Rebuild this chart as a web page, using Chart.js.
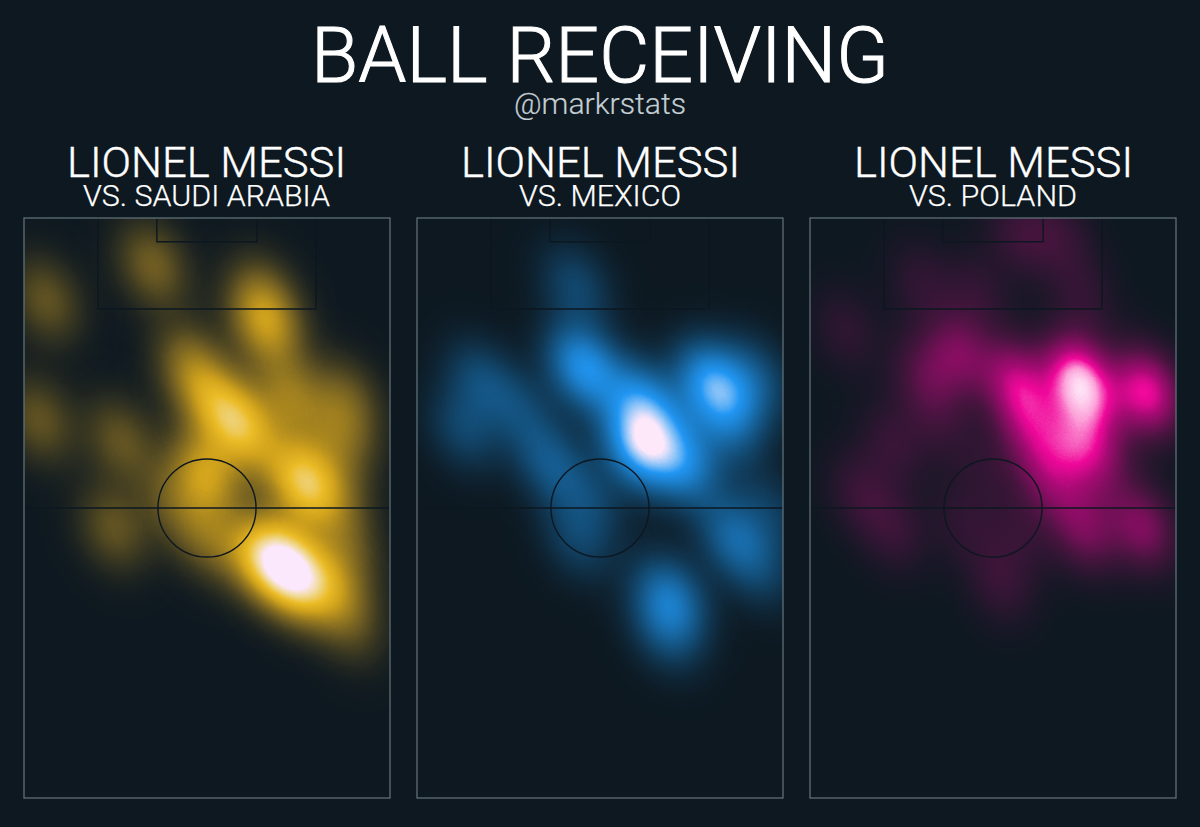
<!DOCTYPE html>
<html>
<head>
<meta charset="utf-8">
<script src="https://cdn.jsdelivr.net/npm/chart.js@4/dist/chart.umd.min.js"></script>
<style>
  html, body { margin: 0; padding: 0; background: #0d1820; }
  body { position: relative; width: 1200px; height: 827px; overflow: hidden; font-family: Roboto, sans-serif; }
  .txt { position: absolute; color: #fff; white-space: nowrap; line-height: 1; font-weight: 300; transform-origin: left top; }
  canvas { position: absolute; top: 216px; }
</style>
</head>
<body>
<script>
// pitch coordinates are percent of the pitch box, y counted from the top line
const saudiX = [5.9, 35.1, 65.9, 65, 45.4, 50.9, 58.5, 72.7, 87.7, 86.4, 76.3, 68.6, 73.5, 61.9, 80.4, 87.7, 86.4, 89.1, 49.5, 49.5, 40, 26.3, 24.4, 4, 64.5, 85];
const saudiY = [14.1, 8.1, 18.4, 13.3, 25.3, 31.4, 35.2, 30.9, 31.4, 38.3, 45.5, 58.6, 61.7, 58.3, 63.3, 56.4, 64.1, 70.2, 44, 54.7, 48.6, 38.3, 53.4, 34.8, 40, 47.8];
const saudiW = [0.25, 0.3, 0.48, 0.22, 0.32, 0.36, 0.6, 0.38, 0.26, 0.26, 0.76, 0.64, 0.64, 0.3, 0.3, 0.22, 0.18, 0.16, 0.55, 0.28, 0.2, 0.25, 0.25, 0.25, 0.18, 0.2];

const mexicoX = [43.2, 17.2, 12.6, 45.4, 60.9, 80, 87.1, 92.3, 60.4, 72.6, 36.3, 47.3, 43.7, 86.3, 96.4, 69.1, 67.7, 84.1, 66.4, 28.2, 93.7];
const mexicoY = [11.6, 27.9, 36.5, 25.7, 31.4, 28.4, 31.6, 27.1, 39.5, 42.2, 42.2, 48.6, 55.5, 55, 50.3, 65.3, 71, 36.5, 34.8, 33.1, 60.7];
const mexicoW = [0.25, 0.26, 0.24, 0.72, 0.48, 0.66, 0.25, 0.26, 0.82, 0.55, 0.33, 0.2, 0.22, 0.4, 0.18, 0.48, 0.28, 0.26, 0.26, 0.22, 0.18];

const polandX = [57.3, 68.2, 30, 45.6, 74.5, 9.6, 40.9, 31.4, 56.5, 72.9, 78, 92, 71.8, 60, 79.1, 65.5, 22.7, 35.5, 13.6, 22.7, 41.8, 57.3, 47.8, 90.9, 75, 51.9];
const polandY = [2.9, 2.9, 11, 12.9, 13.6, 19.3, 23.3, 27.1, 28.4, 27.4, 33, 30, 38.8, 36.5, 41.7, 45.2, 38.8, 34.8, 47.2, 53.8, 52.6, 54.7, 43.4, 53.3, 53.8, 62.9];
const polandW = [0.2, 0.17, 0.15, 0.15, 0.15, 0.15, 0.4, 0.28, 0.6, 0.86, 0.3, 0.78, 0.42, 0.42, 0.32, 0.38, 0.18, 0.14, 0.18, 0.18, 0.14, 0.14, 0.12, 0.46, 0.4, 0.18];

// pitch markings
const halfwayY = 50;
const centreX = 50;
const circleR = 13.4;
const penaltyBox = { left: 20.2, right: 79.8, depth: 15.7 };
const goalBox = { left: 36.3, right: 63.7, depth: 4.1 };

const bg = [13, 24, 32];
const goldRamp = [[0, bg], [0.25, [107, 90, 34]], [0.55, [208, 162, 28]], [0.7, [235, 188, 38]], [0.85, [240, 216, 144]], [1, [251, 232, 252]]];
const blueRamp = [[0, bg], [0.25, [18, 74, 114]], [0.55, [28, 128, 204]], [0.7, [33, 150, 243]], [0.85, [140, 196, 248]], [1, [253, 232, 250]]];
const pinkRamp = [[0, bg], [0.25, [74, 20, 64]], [0.55, [168, 10, 116]], [0.7, [240, 8, 154]], [0.85, [252, 160, 216]], [1, [255, 240, 252]]];

const panels = [
  { title: "VS. SAUDI ARABIA", titleWidth: 245, left: 23.5, xs: saudiX, ys: saudiY, ws: saudiW, ramp: goldRamp, tilt: -25 },
  { title: "VS. MEXICO", titleWidth: 160, left: 416.8, xs: mexicoX, ys: mexicoY, ws: mexicoW, ramp: blueRamp, tilt: -30 },
  { title: "VS. POLAND", titleWidth: 166, left: 810, xs: polandX, ys: polandY, ws: polandW, ramp: pinkRamp, tilt: -20 },
];

const sigmaLong = 31;
const sigmaShort = 23;
const spriteCache = {};

// soft elliptical kernel, white so only the alpha matters
function getSprite(weight) {
  const key = Math.round(weight * 100);
  if (spriteCache[key]) return spriteCache[key];
  const half = 100;
  const c = document.createElement("canvas");
  c.width = half * 2;
  c.height = half * 2;
  const cx = c.getContext("2d");
  const img = cx.createImageData(half * 2, half * 2);
  for (let j = 0; j < half * 2; j++) {
    for (let i = 0; i < half * 2; i++) {
      const dx = (i - half) / sigmaShort;
      const dy = (j - half) / sigmaLong;
      const k = (i + j * half * 2) * 4;
      img.data[k] = 255;
      img.data[k + 1] = 255;
      img.data[k + 2] = 255;
      img.data[k + 3] = Math.round(255 * 0.86 * (key / 100) * Math.exp(-(dx * dx + dy * dy) / 2));
    }
  }
  cx.putImageData(img, 0, 0);
  spriteCache[key] = c;
  return c;
}

function buildLut(ramp) {
  const lut = [];
  for (let a = 0; a < 256; a++) {
    const d = a / 255;
    let n = 0;
    while (n < ramp.length - 2 && d > ramp[n + 1][0]) n++;
    const t = (d - ramp[n][0]) / (ramp[n + 1][0] - ramp[n][0]);
    lut.push(ramp[n][1].map((v, i) => Math.round(v + (ramp[n + 1][1][i] - v) * t)));
  }
  return lut;
}

const heatPlugin = {
  id: "heat",
  beforeDatasetsDraw(chart) {
    chart.ctx.save();
    chart.ctx.globalCompositeOperation = "lighter";
  },
  afterDatasetsDraw(chart, args, opts) {
    const ctx = chart.ctx;
    ctx.restore();
    const area = chart.chartArea;
    const lut = opts.lut;
    const w = Math.round(area.right - area.left);
    const h = Math.round(area.bottom - area.top);
    const img = ctx.getImageData(area.left, area.top, w, h);
    for (let i = 0; i < img.data.length; i += 4) {
      const col = lut[img.data[i + 3]];
      img.data[i] = col[0];
      img.data[i + 1] = col[1];
      img.data[i + 2] = col[2];
      img.data[i + 3] = 255;
    }
    ctx.putImageData(img, area.left, area.top);

    const xs = chart.scales.x;
    const ys = chart.scales.y;
    const px = (v) => xs.getPixelForValue(v);
    const py = (v) => ys.getPixelForValue(v);

    // markings sit on top of the heat, same as the page colour so they vanish on the dark parts
    ctx.save();
    ctx.strokeStyle = "#0d1720";
    ctx.lineWidth = 1.4;
    ctx.beginPath();
    ctx.moveTo(px(0), py(halfwayY));
    ctx.lineTo(px(100), py(halfwayY));
    ctx.moveTo(px(penaltyBox.left), py(0));
    ctx.lineTo(px(penaltyBox.left), py(penaltyBox.depth));
    ctx.lineTo(px(penaltyBox.right), py(penaltyBox.depth));
    ctx.lineTo(px(penaltyBox.right), py(0));
    ctx.moveTo(px(goalBox.left), py(0));
    ctx.lineTo(px(goalBox.left), py(goalBox.depth));
    ctx.lineTo(px(goalBox.right), py(goalBox.depth));
    ctx.lineTo(px(goalBox.right), py(0));
    ctx.stroke();
    ctx.beginPath();
    ctx.arc(px(centreX), py(halfwayY), px(circleR) - px(0), 0, Math.PI * 2);
    ctx.stroke();
    ctx.strokeStyle = "#66767e";
    ctx.lineWidth = 1.2;
    ctx.strokeRect(px(0), py(0), px(100) - px(0), py(100) - py(0));
    ctx.restore();
  },
};

// squeeze a label to the width it has in the picture, text looks condensed there
function addLabel(text, centre, top, size, width, stroke, color) {
  const el = document.createElement("div");
  el.className = "txt";
  el.style.top = top + "px";
  el.style.fontSize = size + "px";
  el.style.webkitTextStroke = stroke + "px";
  if (color) el.style.color = color;
  el.textContent = text;
  document.body.appendChild(el);
  const natural = el.getBoundingClientRect().width;
  el.style.left = centre - width / 2 + "px";
  el.style.transform = "scaleX(" + width / natural + ")";
}

addLabel("BALL RECEIVING", 600, 18, 77, 578, 1);
addLabel("@markrstats", 600, 90, 29, 172, 0.2, "#c4ced3");

panels.forEach((panel) => {
  const centre = panel.left + 183.25;
  addLabel("LIONEL MESSI", centre, 142, 42, 279, 0.4);
  addLabel(panel.title, centre, 182, 29, panel.titleWidth + 2, 0.25);

  const canvas = document.createElement("canvas");
  canvas.style.left = panel.left - 2 + "px";
  canvas.width = 370;
  canvas.height = 584;
  canvas.style.width = "370px";
  canvas.style.height = "584px";
  document.body.appendChild(canvas);

  new Chart(canvas.getContext("2d"), {
    type: "scatter",
    data: {
      datasets: [
        {
          data: panel.xs.map((x, i) => ({ x: x, y: panel.ys[i] })),
          pointRadius: 1,
          pointStyle: (c) => getSprite(panel.ws[c.dataIndex]),
          rotation: panel.tilt,
        },
      ],
    },
    options: {
      responsive: false,
      animation: false,
      devicePixelRatio: 1,
      events: [],
      layout: { padding: 2, autoPadding: false },
      scales: {
        x: { type: "linear", min: 0, max: 100, display: false },
        y: { type: "linear", min: 0, max: 100, reverse: true, display: false },
      },
      plugins: {
        legend: { display: false },
        tooltip: { enabled: false },
        heat: { lut: buildLut(panel.ramp) },
      },
    },
    plugins: [heatPlugin],
  });
});
</script>
</body>
</html>
